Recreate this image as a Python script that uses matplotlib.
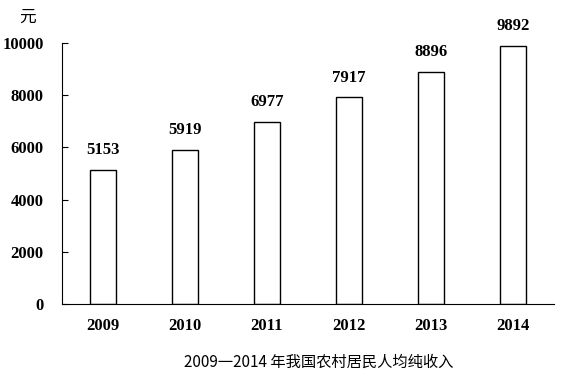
import matplotlib.pyplot as plt

years = ["2009", "2010", "2011", "2012", "2013", "2014"]
income = [5153, 5919, 6977, 7917, 8896, 9892]
yticks = [0, 2000, 4000, 6000, 8000, 10000]

serif = ["Liberation Serif", "DejaVu Serif"]
cjk = ["Noto Sans CJK SC", "DejaVu Sans"]

fig = plt.figure(figsize=(5.73, 3.78), dpi=100)
ax = fig.add_axes([0.108, 0.196, 0.859, 0.690])

x = range(len(years))
bars = ax.bar(x, income, width=0.32, color="white", edgecolor="black", linewidth=1)

for i, v in enumerate(income):
    ax.text(i, v + 450, str(v), ha="center", va="bottom",
            fontsize=12, fontweight="bold", family=serif)

ax.set_xlim(-0.5, len(years) - 0.5)
ax.set_ylim(0, 10000)
ax.set_yticks(yticks)
ax.set_yticklabels([str(t) for t in yticks], fontsize=12, fontweight="bold", family=serif)
ax.set_xticks(list(x))
ax.set_xticklabels(years, fontsize=12, fontweight="bold", family=serif)
ax.tick_params(axis="y", direction="in", length=4, pad=13)
ax.tick_params(axis="x", length=0, pad=10)

for s in ["top", "right"]:
    ax.spines[s].set_visible(False)

fig.text(28 / 573, 1 - 17 / 378, "元", ha="center", va="center", fontsize=12, family=cjk)
fig.text(0.557, 1 - 362 / 378, "2009一2014 年我国农村居民人均纯收入",
         ha="center", va="center", fontsize=11, family=cjk)

fig.savefig("out.png", dpi=100)
